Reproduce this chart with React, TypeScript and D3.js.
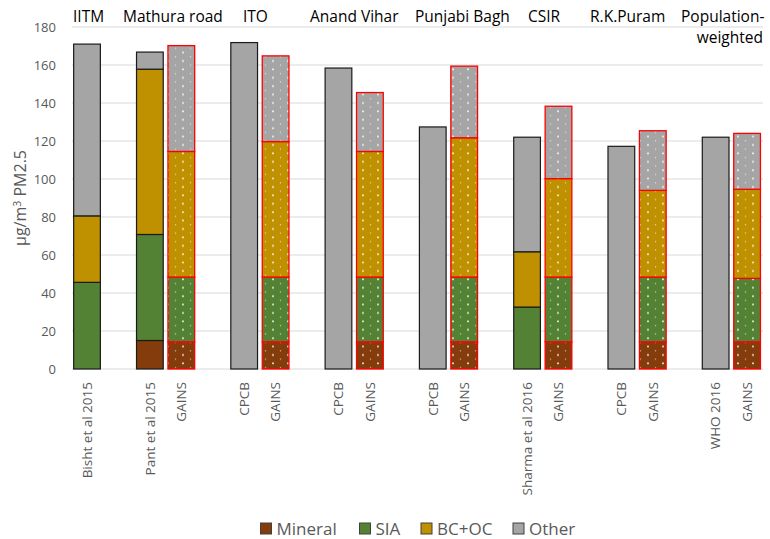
import React from "react";
import * as d3 from "d3";

const slotLabels = ["Bisht et al 2015", "", "Pant et al 2015", "GAINS", "", "CPCB", "GAINS", "", "CPCB", "GAINS", "", "CPCB", "GAINS", "", "Sharma et al 2016", "GAINS", "", "CPCB", "GAINS", "", "WHO 2016", "GAINS"];
const mineral = [0, 0, 15, 14.3, 0, 0, 14.3, 0, 0, 14.3, 0, 0, 14.3, 0, 0, 14.3, 0, 0, 14.3, 0, 0, 14.3];
const sia = [45.6, 0, 55.8, 34.1, 0, 0, 34.1, 0, 0, 34.1, 0, 0, 34.1, 0, 32.6, 34.1, 0, 0, 34.1, 0, 0, 33.4];
const bcoc = [35, 0, 87, 66.1, 0, 0, 71.3, 0, 0, 66.1, 0, 0, 73.3, 0, 29.1, 51.8, 0, 0, 45.6, 0, 0, 46.9];
const other = [90.4, 0, 9, 55.7, 0, 171.8, 45.1, 0, 158.4, 31, 0, 127.4, 37.7, 0, 60.3, 38.1, 0, 117.2, 31.4, 0, 122, 29.4];
const seriesNames = ["Mineral", "SIA", "BC+OC", "Other"];
const seriesColors = ["#843C0C", "#548235", "#BF9000", "#A5A5A5"];
const yTicks = [0, 20, 40, 60, 80, 100, 120, 140, 160, 180];
const groupLabels = ["IITM", "Mathura road", "ITO", "Anand Vihar", "Punjabi Bagh", "CSIR", "R.K.Puram", "Population-"];
const groupLabelX = [73, 123, 243, 310, 415, 528, 590, 681];

const FONT = "'Open Sans', 'Noto Sans', sans-serif";

export default function App() {
  const W = 770, H = 539;
  const left = 71.3, right = 762.8, top = 27, bottom = 369;
  const idx = slotLabels.map((_, i) => String(i));
  const x = d3.scaleBand<string>().domain(idx).range([left, right]).paddingInner(0.15).paddingOuter(0.075);
  const y = d3.scaleLinear().domain([0, 180]).range([bottom, top]);
  const seriesVals = [mineral, sia, bcoc, other];
  const rows = slotLabels.map((lab, i) => ({ key: String(i), Mineral: mineral[i], SIA: sia[i], "BC+OC": bcoc[i], Other: other[i] }));
  const stacked = d3.stack<any>().keys(seriesNames)(rows);

  return (
    <svg width={W} height={H} style={{ position: "absolute", left: 0, top: 0, background: "#fff" }} fontFamily={FONT}>
      <defs>
        <pattern id="dots" width={15} height={8.4} patternUnits="userSpaceOnUse">
          <circle cx={3} cy={2.2} r={0.95} fill="#fff" fillOpacity={0.9} />
          <circle cx={10.5} cy={6.4} r={0.75} fill="#fff" fillOpacity={0.55} />
        </pattern>
      </defs>
      {yTicks.map((t) => (
        <g key={t}>
          <line x1={72} x2={763} y1={y(t)} y2={y(t)} stroke="#D9D9D9" strokeWidth={1} />
          <text x={56} y={y(t)} dy="0.35em" textAnchor="end" fontSize={13} fill="#595959">{t}</text>
        </g>
      ))}
      <text transform={`translate(26,198) rotate(-90)`} textAnchor="middle" fontSize={16} fill="#595959">
        μg/m<tspan dy={-5} fontSize={10.5}>3</tspan><tspan dy={5}> PM2.5</tspan>
      </text>
      {stacked.map((s, si) => (
        <g key={s.key}>
          {s.map((d, i) => {
            const v = seriesVals[si][i];
            if (!v) return null;
            const gains = slotLabels[i] === "GAINS";
            const bx = x(String(i))!;
            const bw = x.bandwidth();
            const y0 = y(d[1]);
            const h = y(d[0]) - y(d[1]);
            return (
              <g key={i}>
                <rect x={bx} y={y0} width={bw} height={h} fill={seriesColors[si]} />
                {gains && <rect x={bx} y={y0} width={bw} height={h} fill="url(#dots)" />}
                <rect x={bx} y={y0} width={bw} height={h} fill="none" stroke={gains ? "#FF0000" : "#1a1a1a"} strokeWidth={gains ? 1.3 : 1.2} />
              </g>
            );
          })}
        </g>
      ))}
      {slotLabels.map((lab, i) => lab ? (
        <text key={i} transform={`translate(${x(String(i))! + x.bandwidth() / 2},382) rotate(-90)`} textAnchor="end" dy="0.35em" fontSize={13.5} fill="#595959">{lab}</text>
      ) : null)}
      {groupLabels.map((g, i) => (
        <text key={g} x={groupLabelX[i]} y={22} fontSize={15.5} fill="#000">{g}</text>
      ))}
      <text x={763} y={43} textAnchor="end" fontSize={15.5} fill="#000">weighted</text>
      {seriesNames.map((n, i) => {
        const lx = [260.5, 359.5, 421, 513][i];
        return (
          <g key={n}>
            <rect x={lx} y={523} width={11} height={11} fill={seriesColors[i]} stroke="#404040" strokeWidth={1} />
            <text x={lx + 16} y={535} fontSize={17} fill="#595959">{n}</text>
          </g>
        );
      })}
    </svg>
  );
}
